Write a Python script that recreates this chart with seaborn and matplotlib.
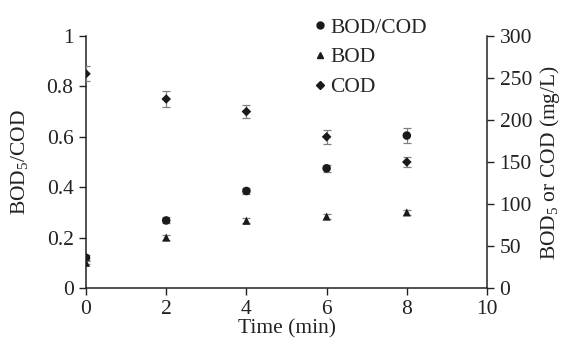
import matplotlib
matplotlib.use("Agg")
import matplotlib.pyplot as plt
import seaborn as sns
import pandas as pd
from matplotlib.lines import Line2D

time = [0, 2, 4, 6, 8]
ratio = [0.12, 0.268, 0.385, 0.475, 0.605]
ratio_err = [0.01, 0.012, 0.01, 0.015, 0.03]
bod = [30, 60, 80, 85, 90]
bod_err = [2, 3, 3, 3, 3]
cod = [255, 225, 210, 180, 150]
cod_err = [9, 10, 8, 8, 6]

sns.set_style("ticks")
plt.rcParams['font.family'] = ['Liberation Serif', 'DejaVu Serif']
plt.rcParams['mathtext.fontset'] = 'custom'
plt.rcParams['mathtext.rm'] = 'Liberation Serif'
plt.rcParams['mathtext.it'] = 'Liberation Serif:italic'

fig = plt.figure(figsize=(5.64, 3.49), dpi=100)
ax = fig.add_axes([0.1525, 0.1748, 0.711, 0.722])
ax2 = ax.twinx()

df1 = pd.DataFrame({"t": time, "v": ratio})
df2 = pd.DataFrame({"t": time, "bod": bod, "cod": cod})

ecol = "#808080"
kw = dict(fmt="none", ecolor=ecol, elinewidth=0.9, capsize=3, capthick=0.9, zorder=2)
ax.errorbar(time, ratio, yerr=ratio_err, **kw)
ax2.errorbar(time, bod, yerr=bod_err, **kw)
ax2.errorbar(time, cod, yerr=cod_err, **kw)

sns.scatterplot(data=df1, x="t", y="v", ax=ax, marker="o", s=38, color="#1a1a1a", edgecolor="none", zorder=3, legend=False)
sns.scatterplot(data=df2, x="t", y="bod", ax=ax2, marker="^", s=34, color="#1a1a1a", edgecolor="none", zorder=3, legend=False)
sns.scatterplot(data=df2, x="t", y="cod", ax=ax2, marker="D", s=24, color="#1a1a1a", edgecolor="none", zorder=3, legend=False)

ax.set_xlim(0, 10)
ax.set_ylim(0, 1)
ax2.set_ylim(0, 300)
ax.set_xticks([0, 2, 4, 6, 8, 10])
ax.set_yticks([0, 0.2, 0.4, 0.6, 0.8, 1])
ax.set_yticklabels(["0", "0.2", "0.4", "0.6", "0.8", "1"])
ax2.set_yticks([0, 50, 100, 150, 200, 250, 300])

fs = 15.5
for a in (ax, ax2):
    a.tick_params(labelsize=fs, length=5, width=1, color="#222222", labelcolor="#222222", pad=4)
    a.spines["top"].set_visible(False)
    for s in a.spines.values():
        s.set_linewidth(1.1)
        s.set_color("#222222")
ax.spines["right"].set_visible(False)
ax2.spines["left"].set_visible(False)
ax2.spines["bottom"].set_visible(False)

ax.set_xlabel("Time (min)", fontsize=fs, color="#222222", labelpad=0)
ax.set_ylabel(r"BOD$_5$/COD", fontsize=fs, color="#222222", labelpad=12)
ax2.set_ylabel(r"BOD$_5$ or COD (mg/L)", fontsize=fs, color="#222222", labelpad=4)

handles = [
    Line2D([], [], marker="o", color="#1a1a1a", linestyle="none", markersize=5),
    Line2D([], [], marker="^", color="#1a1a1a", linestyle="none", markersize=5),
    Line2D([], [], marker="D", color="#1a1a1a", linestyle="none", markersize=3.8),
]
leg = fig.legend(handles, ["BOD/COD", "BOD", "COD"], loc="upper left",
                 bbox_to_anchor=(0.525, 1.005), frameon=False, fontsize=fs,
                 handlelength=0.4, handletextpad=0.3, labelspacing=0.45)

fig.savefig("out.png", dpi=100)
